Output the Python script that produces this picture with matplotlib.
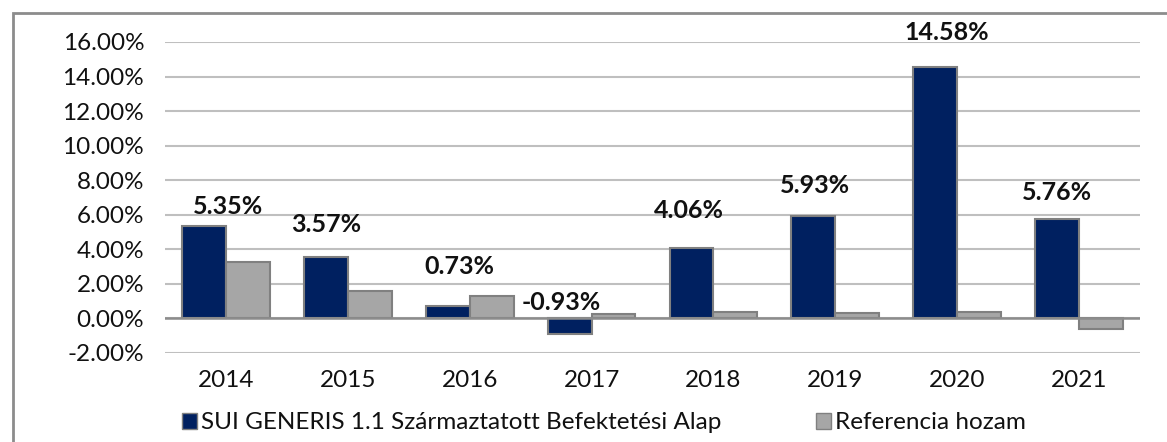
import numpy as np
import matplotlib
matplotlib.use('Agg')
import matplotlib.pyplot as plt
from matplotlib.patches import Rectangle

years = ['2014', '2015', '2016', '2017', '2018', '2019', '2020', '2021']
fund = [5.35, 3.57, 0.73, -0.93, 4.06, 5.93, 14.58, 5.76]
benchmark = [3.24, 1.56, 1.27, 0.23, 0.35, 0.29, 0.38, -0.60]
fund_name = 'SUI GENERIS 1.1 Származtatott Befektetési Alap'
bench_name = 'Referencia hozam'

navy = '#002060'
grey = '#a6a6a6'
edge = '#808080'

# hand placed label nudges (pixels): dx from bar centre, dy above bar top
label_dx = [24, 0, 12, -8, -3, 2, 11, 0]
label_dy = [19, 32, 39, 16, 38, 30, 34, 26]

plt.rcParams['font.family'] = ['Lato', 'DejaVu Sans']

fig = plt.figure(figsize=(11.67, 4.42), dpi=100)
ax = fig.add_axes([0.1414, 0.2014, 0.8355, 0.7036])

x = np.arange(len(years))
w = 0.36
ax.bar(x - w / 2, fund, w, color=navy, edgecolor=edge, linewidth=1.5, zorder=3)
ax.bar(x + w / 2, benchmark, w, color=grey, edgecolor=edge, linewidth=1.5, zorder=3)

for i, v in enumerate(fund):
    ax.annotate(f'{v:.2f}%', (x[i] - w / 2, max(v, 0)),
                xytext=(label_dx[i] * 0.72, label_dy[i] * 0.72), textcoords='offset points',
                ha='center', va='center', fontsize=18, fontweight='bold', color='#111111',
                zorder=5)

ax.set_xlim(-0.5, len(years) - 0.5)
ax.set_ylim(-2, 16)
ax.set_yticks(np.arange(-2, 17, 2))
ax.set_yticklabels([f'{t:.2f}%' for t in np.arange(-2, 17, 2)])
ax.set_xticks(x)
ax.set_xticklabels(years)
ax.tick_params(axis='both', length=0, labelsize=17.5, colors='#111111')
ax.tick_params(axis='y', pad=15)
ax.tick_params(axis='x', pad=12)

ax.yaxis.grid(True, color='#bfbfbf', linewidth=1.5, zorder=0)
ax.axhline(0, color='#8c8c8c', linewidth=1.8, zorder=4)
for s in ax.spines.values():
    s.set_visible(False)

handles = [Rectangle((0, 0), 1, 1, facecolor=navy, edgecolor=edge, linewidth=1),
           Rectangle((0, 0), 1, 1, facecolor=grey, edgecolor=edge, linewidth=1)]
leg = fig.legend(handles, [fund_name, bench_name], loc='center', bbox_to_anchor=(0.5176, 0.043),
                 ncol=2, frameon=False, handlelength=0.62, handleheight=0.62,
                 handletextpad=0.16, columnspacing=3.9,
                 prop={'size': 17.5})
for t in leg.get_texts():
    t.set_color('#111111')

fig.patches.append(Rectangle((13 / 1167, -0.2), 1.2, 1 - 13 / 442 + 0.2, transform=fig.transFigure,
                             fill=False, edgecolor='#8c8c8c', linewidth=2, clip_on=False))

fig.savefig('out.png', dpi=100)
